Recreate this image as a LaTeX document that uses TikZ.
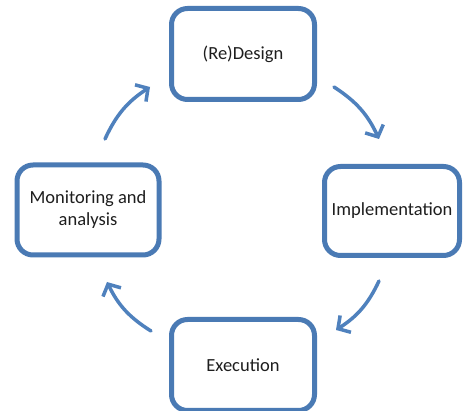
\documentclass[tikz,border=0pt]{standalone}
\usepackage{fontspec}
\setmainfont{Carlito}
\usetikzlibrary{arrows.meta}
\definecolor{boxblue}{RGB}{74,122,180}
\definecolor{arrblue}{RGB}{79,129,189}
\definecolor{txt}{RGB}{30,30,30}
\begin{document}
\begin{tikzpicture}[x=1pt,y=-1pt,
  phase/.style={draw=boxblue, line width=5pt, rounded corners=16pt, fill=white,
    text=txt, font=\fontsize{18.5}{22}\selectfont, align=center, inner sep=0pt},
  cyc/.style={draw=arrblue, line width=3.5pt, line cap=round,
    -{Straight Barb[length=9pt,width=20pt,line width=3.5pt]}, bend left=16}]
\useasboundingbox (0,0) rectangle (464,411);
\fill[white] (0,0) rectangle (464,411);
\node[phase, minimum width=143pt, minimum height=91pt] (design) at (243,54) {(Re)Design};
\node[phase, minimum width=135pt, minimum height=89pt] (impl) at (392,211) {Implementation};
\node[phase, minimum width=142pt, minimum height=90pt] (mon) at (88,210) {Monitoring and\\analysis};
\node[phase, minimum width=143pt, minimum height=91pt] (exec) at (243,365) {Execution};
\coordinate (a1) at (334,87);
\coordinate (a2) at (379,139);
\coordinate (b1) at (379,281);
\coordinate (b2) at (336,330);
\coordinate (c1) at (151,331);
\coordinate (c2) at (107,282);
\coordinate (d1) at (105,139);
\coordinate (d2) at (150,87);
\draw[cyc] (a1) to (a2);
\draw[cyc] (b1) to (b2);
\draw[cyc] (c1) to (c2);
\draw[cyc] (d1) to (d2);
\end{tikzpicture}
\end{document}
